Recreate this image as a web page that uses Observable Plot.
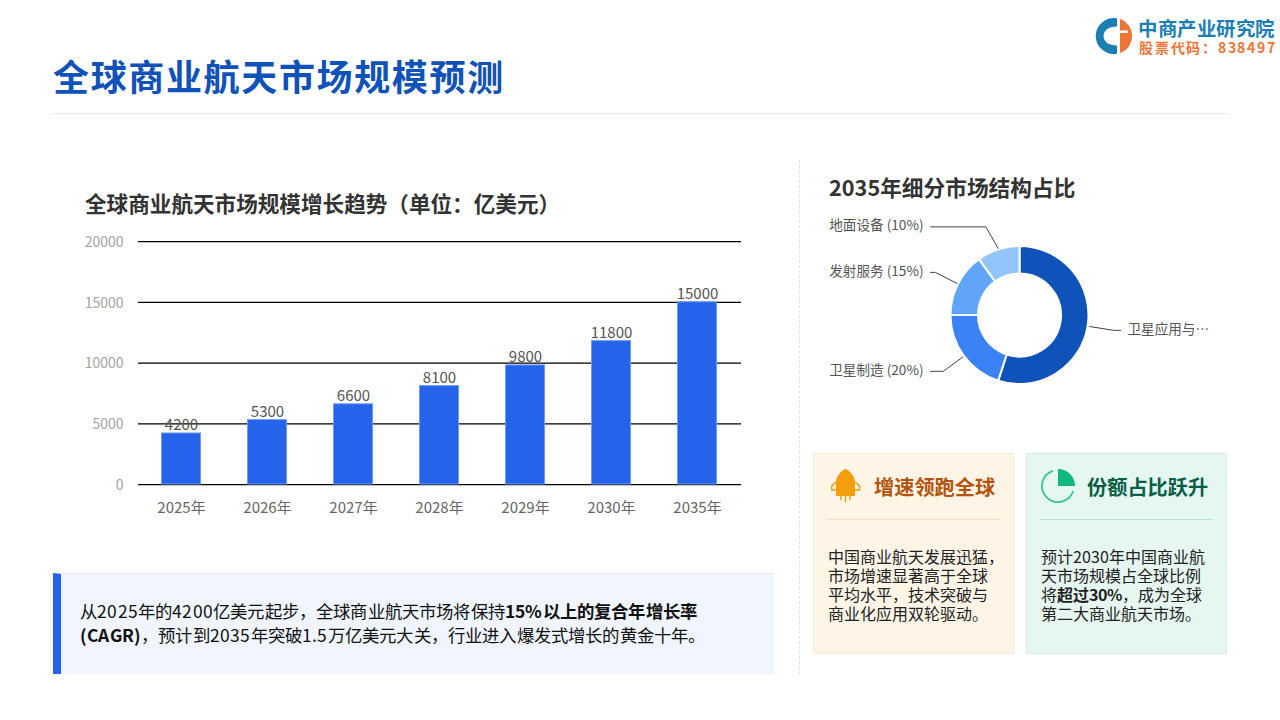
<!DOCTYPE html>
<html lang="zh"><head><meta charset="utf-8">
<script src="https://cdn.jsdelivr.net/npm/d3@7"></script>
<script src="https://cdn.jsdelivr.net/npm/@observablehq/plot@0.6"></script>
<style>
@font-face{font-family:"TightCJK";src:local("Noto Sans CJK SC"),local("Noto Sans CJK SC Regular");font-weight:400;ascent-override:93%;descent-override:7%;line-gap-override:0%}
@font-face{font-family:"TightCJK";src:local("Noto Sans CJK SC Bold");font-weight:700;ascent-override:93%;descent-override:7%;line-gap-override:0%}
html,body{margin:0;padding:0;background:#fff}
body{width:1280px;height:720px;position:relative;overflow:hidden;font-family:"Noto Sans CJK SC","Noto Sans",sans-serif;color:#333}
.abs{position:absolute;white-space:nowrap}
#title{left:53px;top:48px;font-size:36px;font-weight:700;color:#0f52ba;line-height:54px;letter-spacing:1.65px}
#rule{left:53px;top:113px;width:1174px;height:1px;background:#e2e4e8}
#sep{left:799px;top:160px;height:514px;width:0;border-left:1px dashed #dfe2e6}
#barTitle{left:85px;top:188px;font-size:21.6px;font-weight:700;color:#333;line-height:30px}
#pieTitle{left:829px;top:172px;font-size:21.7px;font-weight:700;color:#333;line-height:30px}
#callout{left:53px;top:573px;width:721px;height:101px;background:#f0f5ff;box-sizing:border-box;border-left:8px solid #2563eb;border-top:1px solid #e8ecf4}
#callout div{position:absolute;left:19px;font-family:"TightCJK","Noto Sans CJK SC",sans-serif;font-size:17.4px;letter-spacing:.18px;line-height:26px;color:#111;white-space:nowrap}
.card{width:201px;height:201px;top:453px;box-sizing:border-box;border:1px solid}
#c1{left:813px;background:#fef5e7;border-color:#f8ecd8}
#c2{left:1026px;background:#e6f7f1;border-color:#d6efe6}
.card h3{position:absolute;left:60px;top:19px;margin:0;font-size:20.2px;line-height:28px;font-weight:700;white-space:nowrap}
.card hr{position:absolute;left:13px;width:173px;top:65px;height:1px;border:0;margin:0}
.card p{position:absolute;left:14px;top:93px;margin:0;font-family:"TightCJK","Noto Sans CJK SC",sans-serif;font-size:16px;line-height:19px;color:#222;white-space:nowrap}
.card svg{position:absolute}
#logoA{left:1138px;top:18px;font-family:"TightCJK","Noto Sans CJK SC",sans-serif;font-size:19.4px;letter-spacing:.55px;font-weight:700;color:#1b7fb4;line-height:20px}
#logoB{left:1139px;top:39px;font-family:"TightCJK","Noto Sans CJK SC",sans-serif;font-size:14px;font-weight:700;color:#ee7536;line-height:16px;letter-spacing:1.75px}
</style></head><body>
<div id="title" class="abs">全球商业航天市场规模预测</div>
<div id="rule" class="abs"></div>
<svg class="abs" style="left:1095px;top:17px" width="38" height="38" viewBox="-19 -19 38 38">
<path d="M3 -17.700A18 18 0 1 0 3 17.700V9.500Q-10 9 -10.500 0Q-10 -9 3 -9.500Z" fill="#1b7fb4"/>
<path d="M6 -17A18 18 0 0 1 6 17Z" fill="#ee7536"/>
<path d="M6 -5.500H14V-3H6Z" fill="#fff"/>
</svg>
<div id="logoA" class="abs">中商产业研究院</div>
<div id="logoB" class="abs">股票代码：838497</div>
<div id="barTitle" class="abs">全球商业航天市场规模增长趋势（单位：亿美元）</div>
<div id="barChart" class="abs" style="left:70px;top:225px"></div>
<div id="callout" class="abs">
<div style="top:24px">从2025年的4200亿美元起步，全球商业航天市场将保持<b>15%以上的复合年增长率</b></div>
<div style="top:48px"><b>(CAGR)</b>，预计到2035年突破1.5万亿美元大关，行业进入爆发式增长的黄金十年。</div>
</div>
<div id="sep" class="abs"></div>
<div id="pieTitle" class="abs">2035年细分市场结构占比</div>
<div id="pieChart" class="abs" style="left:810px;top:205px"></div>
<div id="c1" class="abs card">
<svg style="left:17px;top:15px" width="30" height="34" viewBox="0 0 30 34">
<path d="M14.500 0C18 1 24 7 24 13V27H5V13C5 7 11 1 14.500 0Z" fill="#f59e0b"/>
<path d="M5 13L.8 17V21H5M24 13L28.500 17V21H24" fill="none" stroke="#f59e0b" stroke-width="1.600"/>
<path d="M10 27V31M14.500 27V33M19 27V31" stroke="#f59e0b" stroke-width="1.500"/>
</svg>
<h3 style="color:#b45309">增速领跑全球</h3><hr style="background:#f8dfb4">
<p>中国商业航天发展迅猛，<br>市场增速显著高于全球<br>平均水平，技术突破与<br>商业化应用双轮驱动。</p></div>
<div id="c2" class="abs card">
<svg style="left:13px;top:14px" width="36" height="36" viewBox="-18 -18 36 36">
<path d="M-5 -15.200A16 16 0 1 0 15.200 5" fill="none" stroke="#34c795" stroke-width="1.800"/>
<path d="M0 -17A17 17 0 0 1 17 0H0Z" fill="#10b981"/>
</svg>
<h3 style="color:#065f46">份额占比跃升</h3><hr style="background:#b5e6d6">
<p>预计2030年中国商业航<br>天市场规模占全球比例<br>将<b>超过30%</b>，成为全球<br>第二大商业航天市场。</p></div>
<script>
const years = ["2025年","2026年","2027年","2028年","2029年","2030年","2035年"];
const marketSize = [4200,5300,6600,8100,9800,11800,15000];
const yTicks = [0,5000,10000,15000,20000];
const segmentLabels = ["卫星应用与…","卫星制造 (20%)","发射服务 (15%)","地面设备 (10%)"];
const segmentShares = [55,20,15,10];
const segmentColors = ["#0f52ba","#3b82f6","#60a5fa","#93c5fd"];

const font = '"Noto Sans CJK SC","Noto Sans",sans-serif';
const barRows = years.map((year,i)=>({year,value:marketSize[i]}));
document.getElementById("barChart").append(Plot.plot({
  width:720,height:300,marginLeft:68,marginRight:49,marginTop:16,marginBottom:41,
  style:{background:"transparent",fontFamily:font,overflow:"visible"},
  x:{domain:years,paddingInner:0.544,paddingOuter:0.272,label:null},
  y:{domain:[0,20000],label:null},
  marks:[
    Plot.ruleY(yTicks,{stroke:"#000",strokeWidth:1.25}),
    Plot.barY(barRows,{x:"year",y:"value",fill:"#2563eb",stroke:"#6f9bf2",strokeWidth:1,dx:-0.5}),
    Plot.text(barRows,{x:"year",y:"value",text:d=>String(d.value),dy:-8,dx:-0.5,fill:"#555",fontSize:15}),
    Plot.axisY({ticks:yTicks,tickSize:0,tickPadding:15,tickFormat:d=>String(d),fill:"#a3a3a3",fontSize:14,label:null,dy:1}),
    Plot.axisX({tickSize:0,tickPadding:18,fill:"#666",fontSize:15,label:null,dx:-0.5})
  ]
}));

/* donut: plot units are pixels around the centre, scales map them to the frame */
const rOuter=69,rInner=41.5,rElbow=95,rStart=70.5;
const pie=d3.pie().sort(null).value(d=>d)(segmentShares);
const arcGen=d3.arc().innerRadius(rInner).outerRadius(rOuter);
const elbowTurn=[0,0,0,-3.1*Math.PI/180];
const edgeLeft=-89.500,edgeRight=100.500;
const leaders=[],labels=[];
pie.forEach((s,i)=>{
  const mid=(s.startAngle+s.endAngle)/2, a=mid+elbowTurn[i];
  const p0=[Math.sin(mid)*rStart,-Math.cos(mid)*rStart];
  const p1=[Math.sin(a)*rElbow,-Math.cos(a)*rElbow];
  const right=Math.sin(mid)>0, ex=right?edgeRight:edgeLeft;
  [p0,p1,[ex,p1[1]]].forEach(p=>leaders.push({i,x:p[0],y:p[1]}));
  labels.push({x:ex+(right?7:-7),y:p1[1],t:segmentLabels[i],right});
});
document.getElementById("pieChart").append(Plot.plot({
  width:420,height:220,margin:0,
  style:{background:"transparent",fontFamily:font,overflow:"visible"},
  x:{domain:[-209.500,210.500],range:[0,420],axis:null},
  y:{domain:[-110,110],range:[0,220],axis:null},
  marks:[
    (index,{x,y})=>{
      const g=d3.create("svg:g").attr("transform",`translate(${x(0)},${y(0)})`);
      g.selectAll("path").data(pie).join("path").attr("d",arcGen)
       .attr("fill",(d,i)=>segmentColors[i]).attr("stroke","#fff").attr("stroke-width",2);
      return g.node();
    },
    Plot.line(leaders,{x:"x",y:"y",z:"i",stroke:"#444",strokeWidth:1,curve:"linear"}),
    Plot.text(labels.filter(d=>d.right),{x:"x",y:"y",dy:-1,text:"t",textAnchor:"start",fill:"#555",fontSize:13.6}),
    Plot.text(labels.filter(d=>!d.right),{x:"x",y:"y",dy:-1,text:"t",textAnchor:"end",fill:"#555",fontSize:13.6})
  ]
}));
</script>
</body></html>
